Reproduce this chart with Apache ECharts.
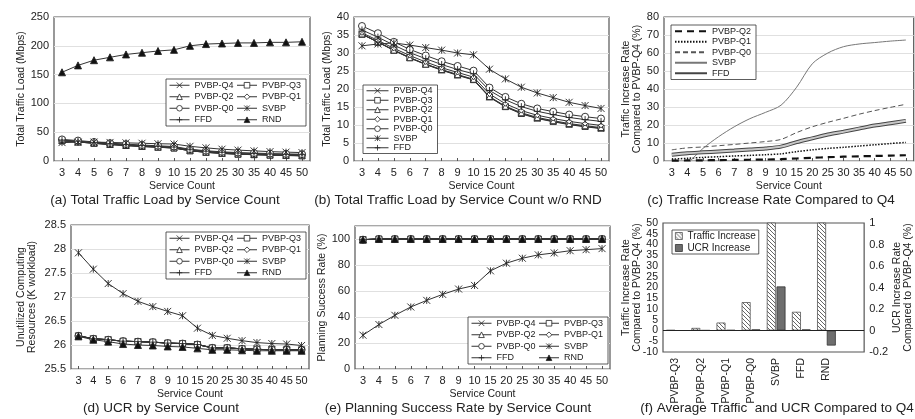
<!DOCTYPE html>
<html>
<head>
<meta charset="utf-8">
<script src="https://cdn.jsdelivr.net/npm/echarts@6/dist/echarts.min.js"></script>
<style>
  html, body { margin: 0; background: #fff; }
  #chart { width: 915px; height: 419px; }
</style>
</head>
<body>
<div id="chart"></div>
<script>
// x categories shared by panels a-e
const serviceCounts = ['3', '4', '5', '6', '7', '8', '9', '10', '15', '20', '25', '30', '35', '40', '45', '50']

// (a)/(b) total traffic load, Mbps
const loadQ4 = [35.2, 33.0, 30.7, 28.6, 26.8, 25.2, 23.8, 22.5, 17.7, 15.0, 13.1, 11.8, 10.9, 10.1, 9.5, 9.0]
const loadQ3 = [35.2, 33.0, 30.8, 28.7, 26.9, 25.3, 23.9, 22.6, 17.8, 15.1, 13.2, 11.9, 11.0, 10.2, 9.6, 9.1]
const loadQ2 = [35.3, 33.1, 30.8, 28.7, 26.9, 25.4, 24.0, 22.7, 17.9, 15.2, 13.4, 12.1, 11.2, 10.4, 9.8, 9.3]
const loadQ1 = [35.6, 33.5, 31.3, 29.3, 27.5, 25.9, 24.6, 23.3, 18.6, 15.9, 14.0, 12.7, 11.8, 11.0, 10.4, 9.9]
const loadQ0 = [37.5, 35.5, 33.1, 31.0, 29.3, 27.7, 26.4, 25.1, 20.4, 17.8, 15.9, 14.6, 13.7, 12.9, 12.3, 11.8]
const loadSVBP = [32.0, 32.5, 32.8, 32.2, 31.5, 30.8, 30.0, 29.5, 25.5, 22.8, 20.5, 18.9, 17.6, 16.3, 15.4, 14.6]
const loadFFD = [36.4, 34.4, 32.2, 30.1, 28.4, 26.8, 25.4, 24.2, 19.6, 17.0, 15.1, 13.8, 12.9, 12.1, 11.5, 11.0]
const loadRND = [154, 166, 175, 180, 185, 188, 191, 193, 200, 203, 204, 205, 205, 206, 206, 207]

// (c) traffic increase rate vs PVBP-Q4, %
const rateQ2 = [0.2, 0.3, 0.4, 0.5, 0.6, 0.7, 0.8, 1.0, 1.4, 1.8, 2.1, 2.4, 2.6, 2.8, 3.0, 3.2]
const rateQ1 = [1.0, 1.5, 2.0, 2.4, 2.8, 3.1, 3.5, 4.0, 5.2, 6.2, 7.0, 7.6, 8.3, 9.0, 9.7, 10.3]
const rateQ0 = [6.2, 7.3, 7.8, 8.5, 9.2, 10.0, 10.8, 12.0, 15.8, 19.0, 21.5, 23.7, 26.0, 28.0, 29.8, 31.5]
const rateSVBP = [-9.0, -1.5, 7.0, 13.5, 19.0, 23.5, 27.0, 31.0, 41.0, 54.0, 60.0, 63.5, 65.0, 65.8, 66.6, 67.2]
const rateFFD = [3.5, 4.3, 4.8, 5.3, 5.8, 6.4, 7.0, 8.0, 10.5, 12.6, 14.7, 16.3, 18.0, 19.7, 21.0, 22.3]

// (d) unutilized computing resources, K workload
const ucrPVBP = [26.19, 26.13, 26.11, 26.08, 26.07, 26.06, 26.04, 26.03, 26.01, 25.94, 25.94, 25.92, 25.91, 25.90, 25.90, 25.90]
const ucrSVBP = [27.92, 27.58, 27.28, 27.07, 26.91, 26.80, 26.70, 26.61, 26.35, 26.20, 26.14, 26.09, 26.05, 26.03, 26.02, 25.99]
const ucrRND = [26.18, 26.11, 26.07, 26.02, 26.00, 25.99, 25.97, 25.96, 25.93, 25.90, 25.90, 25.89, 25.88, 25.88, 25.88, 25.88]

// (e) planning success rate, %
const succSVBP = [26.0, 34.2, 41.3, 47.7, 52.8, 57.4, 61.5, 64.3, 75.5, 81.4, 85.2, 87.8, 89.3, 91.0, 91.8, 92.6]
const succOthers = [99.5, 100, 100, 100, 100, 100, 100, 100, 100, 100, 100, 100, 100, 100, 100, 100]

// (f) averages compared to Q4
const avgCategories = ['PVBP-Q3', 'PVBP-Q2', 'PVBP-Q1', 'PVBP-Q0', 'SVBP', 'FFD', 'RND', '']
const trafficIncrease = [0.2, 1.2, 3.7, 13.2, 60, 8.7, 900, null]
const ucrIncrease = [0, 0.002, 0.004, 0.01, 0.41, 0.01, -0.14, null]

const FONT = 'Liberation Sans, Arial, sans-serif'
const INK = '#222'

// symbol, size, fill
const SYM = {
  'PVBP-Q4': ['path://M0,0L10,10M10,0L0,10', 6, '#fff'],
  'PVBP-Q3': ['rect', 6, '#fff'],
  'PVBP-Q2': ['triangle', 6, '#fff'],
  'PVBP-Q1': ['diamond', 5, '#fff'],
  'PVBP-Q0': ['circle', 7, '#fff'],
  'SVBP': ['path://M0,0L10,10M10,0L0,10M5,0L5,10', 7, '#fff'],
  'FFD': ['path://M5,0L5,10M0,5L10,5', 7, '#fff'],
  'RND': ['triangle', 7, '#111']
}

function markerLine(name, tag, data, idx) {
  const s = SYM[name]
  return {
    type: 'line', name: name + '@' + tag, data: data,
    xAxisIndex: idx, yAxisIndex: idx,
    symbol: s[0], symbolSize: s[1],
    lineStyle: { color: '#333', width: 1 },
    itemStyle: { color: s[2], borderColor: '#222', borderWidth: 0.9 },
    animation: false
  }
}

function plainLine(name, data, style, extra) {
  return Object.assign({
    type: 'line', name: name, data: data,
    xAxisIndex: 2, yAxisIndex: 2,
    symbol: 'none', smooth: 0.3,
    lineStyle: style,
    itemStyle: { color: style.color },
    animation: false
  }, extra)
}

function catAxis(idx, extra) {
  return Object.assign({
    type: 'category', gridIndex: idx, data: serviceCounts,
    name: 'Service Count', nameLocation: 'middle', nameGap: 20,
    nameTextStyle: { fontSize: 10.5, color: INK, fontFamily: FONT },
    axisLine: { show: false },
    axisTick: { show: true, inside: true, alignWithLabel: true, length: 3, lineStyle: { color: '#555' } },
    axisLabel: { fontSize: 11, color: INK, margin: 6, interval: 0, fontFamily: FONT }
  }, extra)
}

function valAxis(idx, min, max, interval, name, gap, extra) {
  return Object.assign({
    type: 'value', gridIndex: idx, min: min, max: max, interval: interval,
    name: name, nameLocation: 'middle', nameGap: gap,
    nameTextStyle: { fontSize: 10.5, color: INK, fontFamily: FONT, lineHeight: 11 },
    axisLine: { show: false },
    axisTick: { show: false },
    axisLabel: { fontSize: 11, color: INK, margin: 5, fontFamily: FONT, showMinLabel: true, showMaxLabel: true },
    splitLine: { lineStyle: { color: '#e0e0e0', width: 1 } }
  }, extra)
}

function legendBox(names, tag, pos, extra) {
  return Object.assign({
    data: names.map(n => n + '@' + tag),
    formatter: n => n.split('@')[0],
    orient: 'horizontal',
    width: 150,
    itemWidth: 20, itemHeight: 7, itemGap: 1,
    padding: [1, 3, 1, 3],
    borderColor: '#333', borderWidth: 0.8, borderRadius: 0,
    backgroundColor: '#fff',
    itemStyle: { borderWidth: 0.8 },
    lineStyle: { width: 1 },
    textStyle: { fontSize: 9, color: INK, fontFamily: FONT, width: 41, lineHeight: 10.5 },
    selectedMode: false
  }, pos, extra)
}

// hatched fill for the traffic bars
const hatch = document.createElement('canvas')
hatch.width = 4
hatch.height = 4
const hg = hatch.getContext('2d')
hg.fillStyle = '#fff'
hg.fillRect(0, 0, 4, 4)
hg.strokeStyle = '#666'
hg.lineWidth = 1
hg.beginPath()
for (let k = -1; k <= 1; k++) {
  hg.moveTo(k * 4, 0)
  hg.lineTo(k * 4 + 4, 4)
}
hg.stroke()

const allNames = ['PVBP-Q4', 'PVBP-Q3', 'PVBP-Q2', 'PVBP-Q1', 'PVBP-Q0', 'SVBP', 'FFD', 'RND']
const gridBase = { show: true, borderColor: '#555', borderWidth: 1.2, backgroundColor: '#fff' }

const series = []
// (a)
;[['PVBP-Q4', loadQ4], ['PVBP-Q3', loadQ3], ['PVBP-Q2', loadQ2], ['PVBP-Q1', loadQ1], ['PVBP-Q0', loadQ0],
  ['SVBP', loadSVBP], ['FFD', loadFFD], ['RND', loadRND]].forEach(d => series.push(markerLine(d[0], 'a', d[1], 0)))
// (b)
;[['PVBP-Q4', loadQ4], ['PVBP-Q3', loadQ3], ['PVBP-Q2', loadQ2], ['PVBP-Q1', loadQ1], ['PVBP-Q0', loadQ0],
  ['SVBP', loadSVBP], ['FFD', loadFFD]].forEach(d => series.push(markerLine(d[0], 'b', d[1], 1)))
// (c)
series.push(plainLine('PVBP-Q2@c', rateQ2, { color: '#111', width: 2.2, type: [7, 5] }))
series.push(plainLine('PVBP-Q1@c', rateQ1, { color: '#111', width: 1.5, type: [1.5, 1.5] }))
series.push(plainLine('PVBP-Q0@c', rateQ0, { color: '#555', width: 1, type: [5, 3] }))
series.push(plainLine('SVBP@c', rateSVBP, { color: '#777', width: 1 }))
series.push(plainLine('FFD@c', rateFFD, { color: '#444', width: 4 }))
series.push(plainLine('FFD-inner@c', rateFFD, { color: '#c8c8c8', width: 2 }))
// (d)
;[['PVBP-Q4', ucrPVBP], ['PVBP-Q3', ucrPVBP], ['PVBP-Q2', ucrPVBP], ['PVBP-Q1', ucrPVBP], ['PVBP-Q0', ucrPVBP],
  ['SVBP', ucrSVBP], ['FFD', ucrPVBP], ['RND', ucrRND]].forEach(d => series.push(markerLine(d[0], 'd', d[1], 3)))
// (e)
;[['PVBP-Q4', succOthers], ['PVBP-Q3', succOthers], ['PVBP-Q2', succOthers], ['PVBP-Q1', succOthers], ['PVBP-Q0', succOthers],
  ['SVBP', succSVBP], ['FFD', succOthers], ['RND', succOthers]].forEach(d => series.push(markerLine(d[0], 'e', d[1], 4)))
// (f)
series.push({
  type: 'bar', name: 'Traffic Increase@f', data: trafficIncrease,
  xAxisIndex: 5, yAxisIndex: 5, barWidth: 9, barGap: '8%',
  itemStyle: { color: { image: hatch, repeat: 'repeat' }, borderColor: '#555', borderWidth: 0.8 },
  markLine: {
    silent: true, symbol: 'none', label: { show: false },
    lineStyle: { color: '#222', type: 'solid', width: 1 },
    data: [{ yAxis: 0 }]
  },
  animation: false
})
series.push({
  type: 'bar', name: 'UCR Increase@f', data: ucrIncrease,
  xAxisIndex: 5, yAxisIndex: 6, barWidth: 9,
  itemStyle: { color: '#6e6e6e', borderColor: '#333', borderWidth: 0.8 },
  animation: false
})

const captions = [
  ['(a) Total Traffic Load by Service Count', 165, 200],
  ['(b) Total Traffic Load by Service Count w/o RND', 458, 200],
  ['(c) Traffic Increase Rate Compared to Q4', 771, 200],
  ['(d) UCR by Service Count', 161, 408],
  ['(e) Planning Success Rate by Service Count', 458, 408],
  ['(f) Average Traffic  and UCR Compared to Q4', 777, 408]
]

const fLabel = { fontSize: 10.5, color: INK, margin: 5, fontFamily: FONT }

const chart = echarts.init(document.getElementById('chart'))
chart.setOption({
  backgroundColor: '#fff',
  textStyle: { fontFamily: FONT },
  grid: [
    Object.assign({ left: 54, top: 17, width: 256, height: 144 }, gridBase),
    Object.assign({ left: 354, top: 17, width: 255, height: 144 }, gridBase),
    Object.assign({ left: 664, top: 17, width: 250, height: 144 }, gridBase),
    Object.assign({ left: 71, top: 225, width: 238, height: 144 }, gridBase),
    Object.assign({ left: 355, top: 226, width: 255, height: 143 }, gridBase),
    Object.assign({ left: 663, top: 223, width: 222, height: 129 }, gridBase)
  ],
  xAxis: [
    catAxis(0), catAxis(1), catAxis(2), catAxis(3), catAxis(4),
    {
      type: 'category', gridIndex: 5, data: avgCategories,
      axisLine: { show: false }, axisTick: { show: false },
      axisLabel: { rotate: 90, fontSize: 10.5, color: INK, margin: 6, interval: 0, fontFamily: FONT }
    }
  ],
  yAxis: [
    valAxis(0, 0, 250, 50, 'Total Traffic Load (Mbps)', 27),
    valAxis(1, 0, 40, 5, 'Total Traffic Load (Mbps)', 21),
    valAxis(2, 0, 80, 10, 'Traffic Increase Rate\nCompared to PVBP-Q4 (%)', 21),
    valAxis(3, 25.5, 28.5, 0.5, 'Unutilized Computing\nResources (K workload)', 33),
    valAxis(4, 0, 110, 20, 'Planning Success Rate (%)', 25, {
      axisLabel: { fontSize: 11, color: INK, margin: 5, fontFamily: FONT, showMaxLabel: false }
    }),
    // inner labels of the dense left axis; its end labels come from index 7
    valAxis(5, -10, 50, 5, 'Traffic Increase Rate\nCompared to PVBP-Q4 (%)', 16, {
      position: 'left', splitLine: { show: false },
      axisLabel: Object.assign({ showMinLabel: false, showMaxLabel: false }, fLabel)
    }),
    valAxis(5, -0.2, 1, 0.2, 'UCR Increase Rate\nCompared to PVBP-Q4 (%)', 14, {
      position: 'right', splitLine: { show: false }
    }),
    valAxis(5, -10, 50, 60, '', 0, {
      position: 'left', splitLine: { show: false },
      axisLabel: Object.assign({ showMinLabel: true, showMaxLabel: true }, fLabel)
    })
  ],
  legend: [
    legendBox(allNames, 'a', { left: 166, top: 79 }),
    legendBox(allNames.slice(0, 7), 'b', { left: 363, top: 85 }, {
      orient: 'vertical', itemWidth: 22, itemGap: 0,
      textStyle: { fontSize: 9, color: INK, fontFamily: FONT, width: 41, lineHeight: 9.5 }
    }),
    legendBox(['PVBP-Q2', 'PVBP-Q1', 'PVBP-Q0', 'SVBP', 'FFD'], 'c', { left: 671, top: 25 },
      { orient: 'vertical', itemWidth: 32, itemGap: 0, itemStyle: { opacity: 0 }, lineStyle: {} }),
    legendBox(allNames, 'd', { left: 166, top: 232 }),
    legendBox(allNames, 'e', { left: 468, top: 317 }),
    legendBox(['Traffic Increase', 'UCR Increase'], 'f', { left: 672, top: 230 },
      { orient: 'vertical', icon: 'rect', itemWidth: 7, itemHeight: 7, itemGap: 2,
        textStyle: { fontSize: 10, color: INK, fontFamily: FONT } })
  ],
  graphic: captions.map(c => ({
    type: 'text', x: c[1], y: c[2],
    style: { text: c[0], align: 'center', verticalAlign: 'middle', fill: INK, font: '13.5px ' + FONT }
  })),
  series: series
})
</script>
</body>
</html>
